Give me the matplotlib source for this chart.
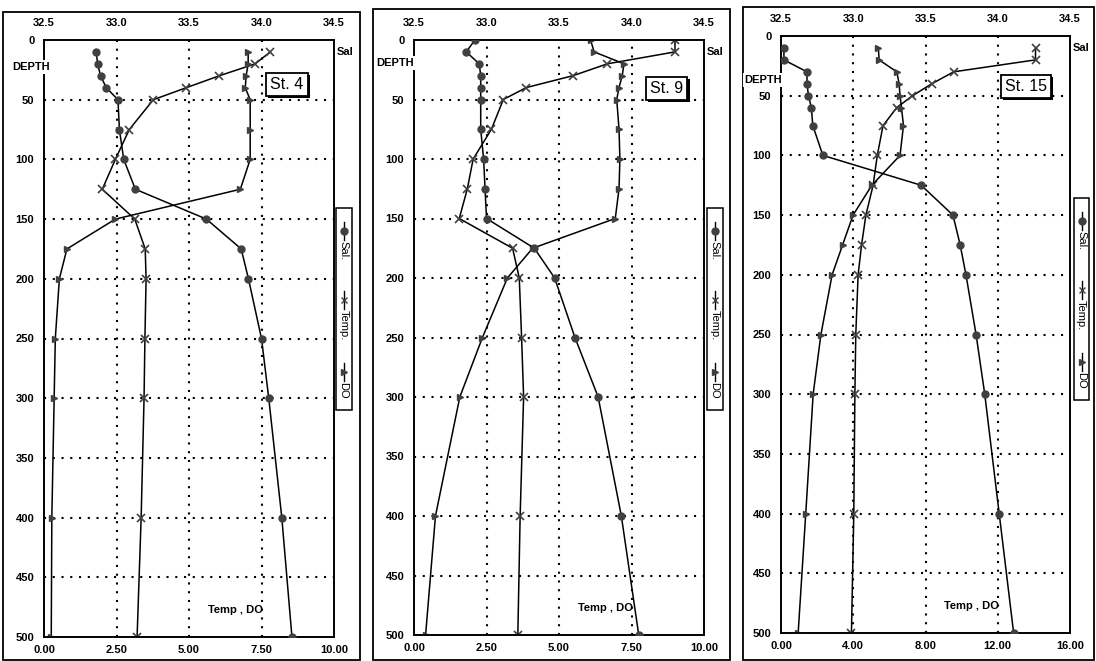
import matplotlib.pyplot as plt
from matplotlib.lines import Line2D
from matplotlib.patches import Rectangle
import matplotlib.patheffects as pe

plt.rcParams['font.family'] = ['Liberation Sans', 'DejaVu Sans']

# St. 4
depth_st4 = [10, 20, 30, 40, 50, 75, 100, 125, 150, 175, 200, 250, 300, 400, 500]
sal_st4 = [32.86, 32.87, 32.89, 32.93, 33.01, 33.02, 33.05, 33.13, 33.62, 33.86,
           33.91, 34.00, 34.05, 34.14, 34.21]
temp_st4 = [7.80, 7.28, 6.04, 4.90, 3.77, 2.94, 2.46, 2.01, 3.13, 3.49,
            3.52, 3.48, 3.45, 3.35, 3.21]
do_st4 = [7.04, 7.04, 6.97, 6.94, 7.11, 7.11, 7.11, 6.77, 2.46, 0.79,
          0.53, 0.39, 0.35, 0.27, 0.25]

# St. 9
depth_st9 = [0, 10, 20, 30, 40, 50, 75, 100, 125, 150, 175, 200, 250, 300, 400, 500]
sal_st9 = [32.92, 32.86, 32.95, 32.96, 32.96, 32.96, 32.96, 32.98, 32.99, 33.00,
           33.33, 33.47, 33.61, 33.77, 33.93, 34.05]
temp_st9 = [9.00, 9.00, 6.67, 5.48, 3.87, 3.08, 2.67, 2.04, 1.84, 1.56,
            3.40, 3.63, 3.71, 3.78, 3.66, 3.58]
do_st9 = [6.09, 6.21, 7.24, 7.18, 7.07, 6.99, 7.07, 7.10, 7.07, 6.94,
          4.09, 3.22, 2.36, 1.58, 0.74, 0.40]

# St. 15
depth_st15 = [10, 20, 30, 40, 50, 60, 75, 100, 125, 150, 175, 200, 250, 300, 400, 500]
sal_st15 = [32.52, 32.52, 32.68, 32.68, 32.69, 32.71, 32.72, 32.79, 33.47, 33.69,
            33.74, 33.78, 33.85, 33.91, 34.01, 34.11]
temp_st15 = [14.09, 14.09, 9.56, 8.35, 7.28, 6.41, 5.65, 5.33, 5.10, 4.70,
             4.46, 4.27, 4.14, 4.09, 4.03, 3.90]
do_st15 = [5.39, 5.43, 6.41, 6.54, 6.59, 6.67, 6.78, 6.59, 5.03, 3.99,
           3.41, 2.83, 2.21, 1.78, 1.37, 0.95]

stations = [
    ('St. 4', depth_st4, sal_st4, temp_st4, do_st4, 10, [0, 2.5, 5, 7.5, 10]),
    ('St. 9', depth_st9, sal_st9, temp_st9, do_st9, 10, [0, 2.5, 5, 7.5, 10]),
    ('St. 15', depth_st15, sal_st15, temp_st15, do_st15, 16, [0, 4, 8, 12, 16]),
]
sal_ticks = [32.5, 33.0, 33.5, 34.0, 34.5]
depth_ticks = list(range(0, 501, 50))

W, H = 1096, 661
# pixel boxes: axes (left, top, right, bottom), outer frame, legend box, labels
axes_px = [(44, 40, 334, 637), (414, 40, 704, 635), (781, 36, 1070, 633)]
frame_px = [(3, 12, 360, 660), (373, 9, 730, 660), (743, 7, 1094, 660)]
legend_px = [(336, 208, 352, 410), (707, 208, 723, 410), (1074, 198, 1089, 400)]
depth_lbl_px = [(31, 67), (395, 63), (763, 80)]
st_box = [(0.838, 0.926), (0.872, 0.919), (0.848, 0.915)]

fig = plt.figure(figsize=(W / 100, H / 100), dpi=100)

def fx(x):
    return x / W

def fy(y):
    return 1 - y / H

dot = (0, (1, 3.2))
mk_col = '#404040'
fs = 8

for i, (name, dep, sal, temp, do, tmax, tticks) in enumerate(stations):
    l, t, r, b = axes_px[i]
    ax = fig.add_axes([fx(l), fy(b), fx(r - l), (b - t) / H])
    ax.set_xlim(0, tmax)
    ax.set_ylim(500, 0)
    ax.set_xticks(tticks)
    ax.set_xticklabels(['%.2f' % v for v in tticks])
    ax.set_yticks(depth_ticks)
    ax.set_yticklabels([str(v) for v in depth_ticks])
    ax.tick_params(axis='x', length=0, pad=6, labelsize=fs)
    ax.tick_params(axis='y', length=0, pad=7, labelsize=fs)
    for lab in ax.get_xticklabels() + ax.get_yticklabels():
        lab.set_fontweight('bold')
    for s in ax.spines.values():
        s.set_linewidth(1.2)

    # dotted grid
    for v in tticks[1:-1]:
        ax.axvline(v, color='black', lw=1.5, ls=dot, zorder=1)
    for v in depth_ticks[1:-1]:
        ax.axhline(v, color='black', lw=1.5, ls=dot, zorder=1)

    ax.plot(temp, dep, color='black', lw=1.1, marker='x', ms=6, mew=1.2,
            mec=mk_col, zorder=3)
    ax.plot(do, dep, color='black', lw=1.1, marker='>', ms=5, mfc=mk_col,
            mec=mk_col, zorder=3)

    axs = ax.twiny()
    axs.set_xlim(32.5, 34.5)
    axs.set_xticks(sal_ticks)
    axs.set_xticklabels(['%.1f' % v for v in sal_ticks])
    axs.tick_params(axis='x', length=0, pad=9, labelsize=fs)
    for lab in axs.get_xticklabels():
        lab.set_fontweight('bold')
    for s in axs.spines.values():
        s.set_linewidth(1.2)
    axs.plot(sal, dep, color='black', lw=1.1, marker='o', ms=5, mfc=mk_col,
             mec=mk_col, zorder=3)

    axs.text(1.01, 0.98, 'Sal', transform=ax.transAxes, fontsize=fs,
             fontweight='bold', ha='left', va='center')
    axs.text(0.66, 0.045, 'Temp , DO', transform=ax.transAxes, fontsize=fs,
             fontweight='bold', ha='center', va='center')
    axs.text(st_box[i][0], st_box[i][1], name, transform=ax.transAxes,
             fontsize=11.5, ha='center', va='center',
             bbox=dict(boxstyle='square,pad=0.25', fc='white', ec='black', lw=1.3,
                       path_effects=[pe.SimplePatchShadow(offset=(1.5, -1.5),
                                                          shadow_rgbFace='black',
                                                          alpha=1.0),
                                     pe.Normal()]))
    dx, dy = depth_lbl_px[i]
    fig.text(fx(dx), fy(dy), 'DEPTH', fontsize=fs, fontweight='bold',
             ha='center', va='center', zorder=10,
             bbox=dict(boxstyle='square,pad=0.15', fc='white', ec='none'))

    # outer panel frame
    x0, y0, x1, y1 = frame_px[i]
    fig.patches.append(Rectangle((fx(x0), fy(y1)), fx(x1 - x0), (y1 - y0) / H,
                                 transform=fig.transFigure, fill=False,
                                 ec='black', lw=1.3))

    # vertical legend
    x0, y0, x1, y1 = legend_px[i]
    fig.patches.append(Rectangle((fx(x0), fy(y1)), fx(x1 - x0), (y1 - y0) / H,
                                 transform=fig.transFigure, fill=False,
                                 ec='black', lw=1.1))
    cx = (x0 + x1) / 2
    entries = [('Sal.', 'o', 5), ('Temp.', 'x', 5), ('DO', '>', 4)]
    ys = [y0 + 23, y0 + 92, y0 + 164]
    for (lab, m, ms), ym in zip(entries, ys):
        fig.add_artist(Line2D([fx(cx), fx(cx)], [fy(ym - 9), fy(ym + 9)],
                              transform=fig.transFigure, color='black', lw=1.0))
        fig.add_artist(Line2D([fx(cx)], [fy(ym)], transform=fig.transFigure,
                              marker=m, ms=ms, color=mk_col, mec=mk_col,
                              lw=0))
        fig.text(fx(cx - 0.5), fy(ym + 10), lab, fontsize=fs, rotation=-90,
                 ha='center', va='top')

fig.savefig('out.png', dpi=100)
